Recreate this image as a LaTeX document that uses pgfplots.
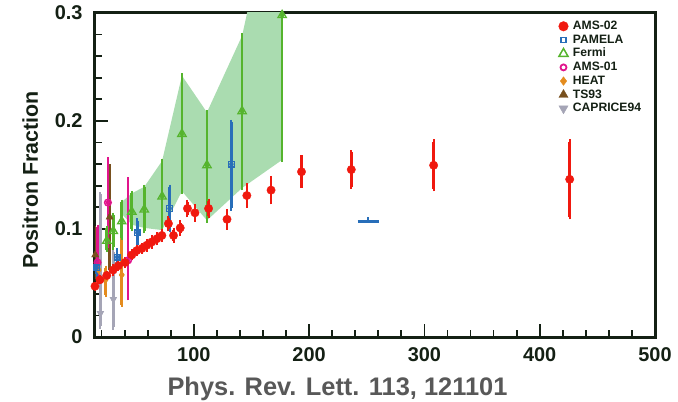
\documentclass[border=0pt]{standalone}
\usepackage{pgfplots}
\pgfplotsset{compat=1.18}
\usepackage{pgfplotstable}
\usepackage{fontspec}
\setmainfont{Liberation Sans}
\definecolor{frame}{RGB}{20,32,20}
\definecolor{amsred}{RGB}{240,25,15}
\definecolor{pamblue}{RGB}{40,110,185}
\definecolor{fermigreen}{RGB}{85,180,45}
\definecolor{bandgreen}{RGB}{170,220,176}
\definecolor{amsmag}{RGB}{225,20,140}
\definecolor{heatorange}{RGB}{228,140,30}
\definecolor{tsbrown}{RGB}{120,80,30}
\definecolor{capgray}{RGB}{165,165,182}
\definecolor{labgray}{RGB}{88,88,88}

\pgfplotsset{
  eb/.style={only marks, mark=none, forget plot, color=#1,
    error bars/y dir=both, error bars/y explicit,
    error bars/error bar style={/tikz/line width=2.6bp, /tikz/color=#1, /tikz/solid},
    error bars/error mark options={/tikz/line width=2bp, /tikz/mark size=2.3bp, /tikz/color=#1}},
}

\pgfplotstableread{
x y e
14.3 0.047 0.002
18.6 0.053 0.002
24.5 0.057 0.002
30.0 0.062 0.003
34.5 0.066 0.003
40.4 0.069 0.003
46.2 0.076 0.003
50.5 0.080 0.003
55.0 0.082 0.003
59.3 0.085 0.004
63.6 0.088 0.004
68.0 0.091 0.004
72.3 0.094 0.004
78.0 0.105 0.005
82.4 0.094 0.005
88.2 0.101 0.005
94.5 0.119 0.006
101.0 0.115 0.006
112.8 0.119 0.007
128.8 0.109 0.0075
146.0 0.131 0.009
167.0 0.136 0.011
193.4 0.153 0.013
236.6 0.155 0.016
308.0 0.159 0.022
426.0 0.146 0.035
}\amstwo

\pgfplotstableread{
x y ep em
15.8 0.064 0.006 0.006
33.5 0.074 0.006 0.006
51.0 0.0966 0.011 0.011
79.0 0.119 0.020 0.020
132.6 0.160 0.039 0.041
}\pamela

\pgfplotstableread{
x y ep em
24.5 0.089 0.012 0.008
30.2 0.098 0.015 0.015
37.5 0.107 0.018 0.015
46.2 0.116 0.017 0.016
57.0 0.118 0.021 0.020
72.5 0.130 0.033 0.033
89.7 0.188 0.054 0.053
111.4 0.159 0.049 0.051
141.9 0.209 0.070 0.071
176.6 0.298 0.150 0.134
}\fermi

\pgfplotstableread{
x y ep em
16.5 0.069 0.033 0.018
25.5 0.1245 0.040 0.040
43.0 0.071 0.075 0.035
}\amsone

\pgfplotstableread{
x y ep em
17.5 0.062 0.008 0.008
23.5 0.053 0.011 0.014
37.5 0.0575 0.042 0.0275
}\heat

\pgfplotstableread{
x y ep em
14.5 0.076 0.025 0.020
27.0 0.111 0.047 0.049
}\tsninetythree

\pgfplotstableread{
x y ep em
19.0 0.022 0.110 0.012
30.2 0.035 0.044 0.026
}\caprice

\begin{document}
\begin{tikzpicture}
\useasboundingbox (-95bp,-65bp) rectangle (583bp,337bp);
\begin{axis}[
  at={(0,0)}, anchor=south west,
  scale only axis, width=560bp, height=324bp,
  xmin=14.3, xmax=500, ymin=0, ymax=0.3,
  axis line style={line width=3bp, draw=frame},
  tick style={line width=1.8bp, draw=frame},
  tick align=inside, xtick pos=bottom, ytick pos=left,
  major tick length=13bp, minor tick length=7bp,
  xtick={100,200,300,400,500}, xticklabels={100,200,300,400,500},
  minor xtick={20,40,60,80,120,140,160,180,220,240,260,280,320,340,360,380,420,440,460,480},
  ytick={0,0.1,0.2,0.3}, yticklabels={0,0.1,0.2,0.3},
  minor ytick={0.02,0.04,0.06,0.08,0.12,0.14,0.16,0.18,0.22,0.24,0.26,0.28},
  /pgf/number format/assume math mode=true,
  ticklabel style={font=\bfseries\fontsize{20}{20}\selectfont, text=frame},
  xticklabel style={yshift=-7bp},
  yticklabel style={xshift=-9bp},
  xlabel={Phys. Rev. Lett. 113, 121101},
  xlabel style={at={(axis description cs:0.433,-0.182)}, anchor=base, inner sep=0pt,
    font=\bfseries\fontsize{25.5}{26}\selectfont, text=labgray},
  ylabel={Positron Fraction},
  ylabel style={at={(axis description cs:-0.1018,0.485)}, anchor=base, inner sep=0pt,
    font=\bfseries\fontsize{21.5}{22}\selectfont, text=frame},
  legend style={at={(axis description cs:0.815,0.985)}, anchor=north west, draw=none, fill=none,
    font=\bfseries\fontsize{12.2}{12}\selectfont, text=frame, row sep=1.2bp,
    nodes={inner sep=0.5bp, text height=9bp, text depth=2.5bp}},
  legend cell align=left,
  legend image code/.code={\path (0bp,0bp) (16bp,0bp); \draw[#1] plot coordinates {(8bp,0bp)};},
]
% legend entries
\addlegendimage{only marks, mark=*, mark size=4.8bp, color=amsred}
\addlegendentry{AMS-02}
\addlegendimage{only marks, mark=square, mark size=2.6bp, line width=1.6bp, color=pamblue, mark options={fill=white}}
\addlegendentry{PAMELA}
\addlegendimage{only marks, mark=triangle, mark size=5.2bp, line width=1.5bp, color=fermigreen, mark options={fill=white}}
\addlegendentry{Fermi}
\addlegendimage{only marks, mark=o, mark size=3bp, line width=1.8bp, color=amsmag, mark options={fill=white}}
\addlegendentry{AMS-01}
\addlegendimage{only marks, mark=diamond*, mark size=4.3bp, color=heatorange}
\addlegendentry{HEAT}
\addlegendimage{only marks, mark=triangle*, mark size=5.3bp, color=tsbrown}
\addlegendentry{TS93}
\addlegendimage{only marks, mark=triangle*, mark options={rotate=180}, mark size=5.3bp, color=capgray}
\addlegendentry{CAPRICE94}

% Fermi systematic band
\addplot[fill=bandgreen, draw=none, forget plot] coordinates {
 (37.5,0.125) (46.2,0.133) (57,0.139) (72.5,0.163) (89.7,0.242) (111.4,0.208) (141.9,0.279) (176.6,0.448)
 (176.6,0.164) (141.9,0.138) (111.4,0.108) (89.7,0.135) (72.5,0.099) (57,0.101) (46.2,0.104) (37.5,0.114)
} -- cycle;

% CAPRICE94
\addplot[eb=capgray] table[x=x, y=y, y error plus=ep, y error minus=em] {\caprice};
\addplot[only marks, mark=triangle*, mark options={rotate=180}, mark size=4bp, color=capgray, forget plot]
  table[x=x, y=y] {\caprice};
% TS93
\addplot[eb=tsbrown] table[x=x, y=y, y error plus=ep, y error minus=em] {\tsninetythree};
\addplot[only marks, mark=triangle*, mark size=4.2bp, color=tsbrown, forget plot]
  table[x=x, y=y] {\tsninetythree};
% HEAT
\addplot[eb=heatorange] table[x=x, y=y, y error plus=ep, y error minus=em] {\heat};
\addplot[only marks, mark=diamond*, mark size=3.6bp, color=heatorange, forget plot]
  table[x=x, y=y] {\heat};
% AMS-01
\addplot[eb=amsmag] table[x=x, y=y, y error plus=ep, y error minus=em] {\amsone};
\addplot[only marks, mark=o, mark size=3.3bp, line width=1.5bp, color=amsmag, mark options={fill=white}, forget plot]
  table[x=x, y=y] {\amsone};
% Fermi
\addplot[eb=fermigreen] table[x=x, y=y, y error plus=ep, y error minus=em] {\fermi};
\addplot[only marks, mark=triangle, mark size=4.8bp, line width=1.3bp, color=fermigreen, mark options={fill=white}, forget plot]
  table[x=x, y=y] {\fermi};
% PAMELA
\addplot[eb=pamblue] table[x=x, y=y, y error plus=ep, y error minus=em] {\pamela};
\addplot[only marks, mark=square, mark size=2.8bp, line width=1.3bp, color=pamblue, mark options={fill=white}, forget plot]
  table[x=x, y=y] {\pamela};
\addplot[pamblue, line width=2.2bp, forget plot] coordinates {(242,0.107) (261,0.107)};
\addplot[pamblue, line width=2bp, forget plot] coordinates {(251,0.107) (251,0.111)};
% AMS-02
\addplot[eb=amsred] table[x=x, y=y, y error plus=e, y error minus=e] {\amstwo};
\addplot[only marks, mark=*, mark size=4.2bp, color=amsred, forget plot]
  table[x=x, y=y] {\amstwo};
\end{axis}
\end{tikzpicture}
\end{document}
